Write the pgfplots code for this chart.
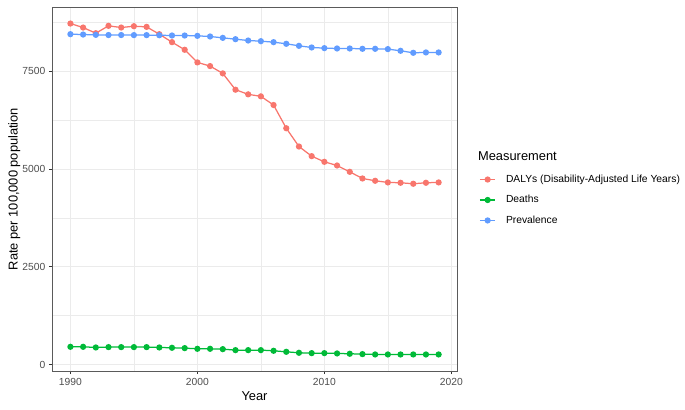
\documentclass[border=0pt]{standalone}
\usepackage{fontspec}
\setmainfont{Liberation Sans}
\usepackage{pgfplots}
\usepackage{pgfplotstable}
\pgfplotsset{compat=1.18}
\definecolor{cR}{HTML}{F8766D}
\definecolor{cG}{HTML}{00BA38}
\definecolor{cB}{HTML}{619CFF}
\definecolor{gridc}{HTML}{EBEBEB}
\definecolor{g20}{HTML}{333333}
\definecolor{g30}{HTML}{4D4D4D}
\definecolor{bord}{HTML}{5A5A5A}

\pgfplotstableread{
year val
1990 8724
1991 8622
1992 8477
1993 8665
1994 8622
1995 8656
1996 8639
1997 8452
1998 8248
1999 8053
2000 7730
2001 7636
2002 7449
2003 7032
2004 6913
2005 6862
2006 6640
2007 6046
2008 5578
2009 5332
2010 5187
2011 5093
2012 4931
2013 4761
2014 4702
2015 4660
2016 4651
2017 4626
2018 4651
2019 4660
}\dalys

\pgfplotstableread{
year val
1990 455
1991 455
1992 438
1993 447
1994 447
1995 447
1996 447
1997 438
1998 430
1999 421
2000 404
2001 404
2002 395
2003 370
2004 370
2005 370
2006 353
2007 327
2008 302
2009 293
2010 293
2011 285
2012 277
2013 268
2014 259
2015 259
2016 259
2017 259
2018 259
2019 259
}\deaths

\pgfplotstableread{
year val
1990 8452
1991 8443
1992 8435
1993 8430
1994 8430
1995 8428
1996 8428
1997 8425
1998 8418
1999 8418
2000 8409
2001 8393
2002 8358
2003 8324
2004 8290
2005 8273
2006 8248
2007 8206
2008 8154
2009 8112
2010 8095
2011 8086
2012 8086
2013 8078
2014 8078
2015 8070
2016 8027
2017 7976
2018 7985
2019 7985
}\prev

\begin{document}
\begin{tikzpicture}
\begin{axis}[
  at={(0pt,0pt)}, anchor=south west,
  scale only axis, width=346.3pt, height=311.2pt,
  xmin=1988.55, xmax=2020.45, ymin=-164, ymax=9147,
  xtick={1990,2000,2010,2020}, minor xtick={1995,2005,2015},
  ytick={0,2500,5000,7500}, minor ytick={1250,3750,6250,8750},
  grid=both,
  major grid style={draw=gridc, line width=1.07pt},
  minor grid style={draw=gridc, line width=0.53pt},
  axis line style={draw=bord, line width=0.75pt},
  tick align=outside, major tick length=2.75pt, minor tick length=0pt,
  tick style={draw=g20, line width=0.75pt},
  xtick pos=bottom, ytick pos=left,
  /pgf/number format/assume math mode=true,
  /pgf/number format/1000 sep={},
  ticklabel style={font=\fontsize{8.8}{10}\selectfont, text=g30},
  xticklabel style={inner sep=0pt, anchor=north, yshift=-3.2pt},
  yticklabel style={inner sep=0pt, anchor=east, xshift=-2.8pt},
  xlabel={Year}, ylabel={Rate per 100,000 population},
  label style={font=\fontsize{11}{13}\selectfont},
  xlabel style={at={(axis description cs:0.5,0)}, anchor=center, yshift=-21.4pt, inner sep=0pt},
  ylabel style={at={(axis description cs:0,0.5)}, anchor=center, yshift=32.3pt, inner sep=0pt},
  every axis plot/.append style={line width=1.07pt, mark=*, mark size=2.1pt, mark options={solid}},
  legend style={draw=none, fill=none, inner sep=0pt, outer sep=0pt,
    at={(axis description cs:1.0548,0.4698)}, anchor=west,
    font=\fontsize{8.8}{10}\selectfont,
    nodes={inner sep=0pt, text height=6.4pt, text depth=2pt},
    row sep=9.1pt, column sep=8.55pt},
  legend cell align=left,
  legend image code/.code={\draw[mark repeat=2,mark phase=2] plot coordinates {(0pt,0pt)(6.65pt,0pt)(13.3pt,0pt)};},
  clip=false,
]
\addplot[cR, mark options={fill=cR, draw=cR}] table[x=year,y=val] {\dalys};
\addlegendentry{DALYs (Disability-Adjusted Life Years)}
\addplot[cG, mark options={fill=cG, draw=cG}] table[x=year,y=val] {\deaths};
\addlegendentry{Deaths}
\addplot[cB, mark options={fill=cB, draw=cB}] table[x=year,y=val] {\prev};
\addlegendentry{Prevalence}
\node[anchor=west, inner sep=0pt, font=\fontsize{11}{13}\selectfont] at (axis description cs:1.0514,0.5915) {Measurement};
\end{axis}
\pgfresetboundingbox
\path (-44.46pt,-32.5pt) rectangle (541.2pt,317.2pt);
\end{tikzpicture}
\end{document}
